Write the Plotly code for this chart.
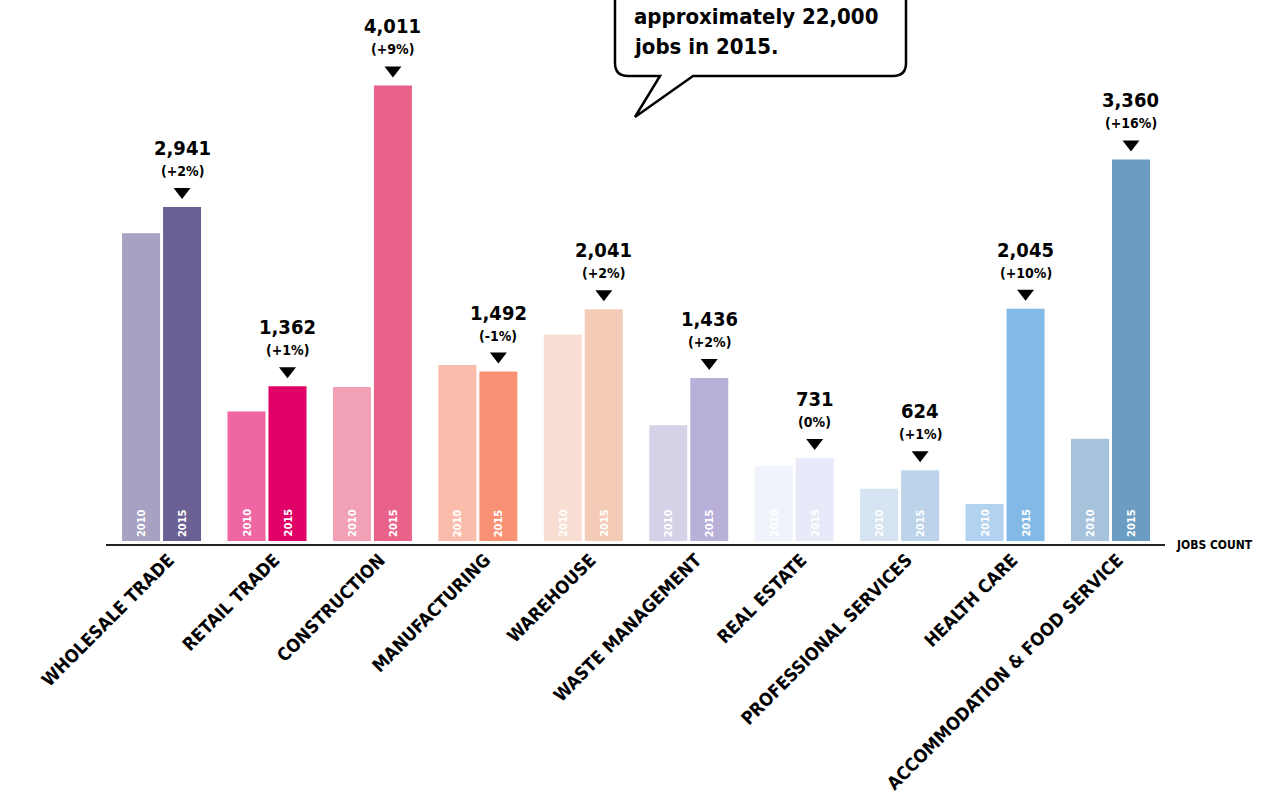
import plotly.graph_objects as go

# ---- data ---------------------------------------------------------------
categories = [
    "WHOLESALE TRADE", "RETAIL TRADE", "CONSTRUCTION", "MANUFACTURING",
    "WAREHOUSE", "WASTE MANAGEMENT", "REAL ESTATE", "PROFESSIONAL SERVICES",
    "HEALTH CARE", "ACCOMMODATION & FOOD SERVICE",
]
jobs_2010 = [2710, 1140, 1355, 1550, 1815, 1020, 660, 460, 325, 900]
jobs_2015 = [2941, 1362, 4011, 1492, 2041, 1436, 731, 624, 2045, 3360]
pct_change = ["+2%", "+1%", "+9%", "-1%", "+2%", "+2%", "0%", "+1%", "+10%", "+16%"]
year_labels = ["2010", "2015"]

colors_2010 = ["#a7a1c2", "#ee66a2", "#f1a0b6", "#fbbdab", "#f8ddd3",
               "#d5d1e7", "#f1f3fc", "#d6e3f0", "#b2d3ef", "#a6c3db"]
colors_2015 = ["#6a6093", "#e00066", "#e8628a", "#f99175", "#f4cbb6",
               "#b9b0da", "#e8eaf9", "#bcd3ea", "#83b9e6", "#6b9dc3"]

# ---- layout geometry ----------------------------------------------------
W, H = 1275, 804
M_L, M_R, M_T, M_B = 106, 110, 0, 259
PW = W - M_L - M_R
PH = H - M_T - M_B
X_RANGE = [-0.527, 9.517]
UNIT = PW / (X_RANGE[1] - X_RANGE[0])        # px per category slot
PX_PER_JOB = 0.11357
Y_MIN = -4 / PX_PER_JOB                       # small gap between bars and baseline
Y_MAX = Y_MIN + PH / PX_PER_JOB

BAR_W = 38 / UNIT
GAP = 3 / UNIT
OFF_2010 = -(BAR_W + GAP / 2)
OFF_2015 = GAP / 2
LABEL_NUDGE = 0.07                            # category labels sit a little right of centre

FONT = "DejaVu Sans Condensed"
xs = list(range(len(categories)))

fig = go.Figure()
fig.add_trace(go.Bar(x=xs, y=jobs_2010, width=BAR_W, offset=OFF_2010,
                     marker=dict(color=colors_2010, line=dict(width=0)),
                     name="2010", hoverinfo="y"))
fig.add_trace(go.Bar(x=xs, y=jobs_2015, width=BAR_W, offset=OFF_2015,
                     marker=dict(color=colors_2015, line=dict(width=0)),
                     name="2015", hoverinfo="y"))

annotations = []
shapes = []

c2010 = [x + OFF_2010 + BAR_W / 2 for x in xs]
c2015 = [x + OFF_2015 + BAR_W / 2 for x in xs]

for i in xs:
    # vertical year tags at the foot of each bar
    for cx, yr in ((c2010[i], year_labels[0]), (c2015[i], year_labels[1])):
        annotations.append(dict(
            x=cx, y=0, xref="x", yref="y", text=yr, showarrow=False,
            textangle=-90, xanchor="center", yanchor="middle", yshift=18,
            font=dict(family=FONT, size=11, color="white", weight="bold")))
    # value and change above the 2015 bar
    annotations.append(dict(
        x=c2015[i], y=jobs_2015[i], xref="x", yref="y",
        text=f"{jobs_2015[i]:,}", showarrow=False,
        xanchor="center", yanchor="middle", yshift=59,
        font=dict(family=FONT, size=20, color="black", weight="bold")))
    annotations.append(dict(
        x=c2015[i], y=jobs_2015[i], xref="x", yref="y",
        text=f"({pct_change[i]})", showarrow=False,
        xanchor="center", yanchor="middle", yshift=36,
        font=dict(family=FONT, size=14, color="black", weight="bold")))
    # pointer triangle
    shapes.append(dict(
        type="path", xref="x", yref="y",
        xsizemode="pixel", ysizemode="pixel",
        xanchor=c2015[i], yanchor=jobs_2015[i],
        path="M-8.5,19 L8.5,19 L0,8 Z",
        fillcolor="black", line=dict(width=0)))

# baseline
shapes.append(dict(type="line", xref="paper", yref="paper",
                   x0=0, x1=1, y0=0, y1=0,
                   line=dict(color="#222222", width=2)))

annotations.append(dict(
    x=1, y=0, xref="paper", yref="paper", text="JOBS COUNT", showarrow=False,
    xanchor="left", yanchor="middle", xshift=9,
    font=dict(family=FONT, size=12, color="black", weight="bold")))


# speech bubble (pixel layout converted to paper coordinates)
def px(xp):
    return (xp - M_L) / PW


def py(yp):
    return (M_T + PH - yp) / PH


def pt(xp, yp):
    return f"{px(xp):.5f},{py(yp):.5f}"


bl, br, bb, btop, r = 615, 906, 76, -30, 13
bubble = (
    f"M{pt(bl, btop)} L{pt(bl, bb - r)} Q{pt(bl, bb)} {pt(bl + r, bb)} "
    f"L{pt(660, bb)} L{pt(635, 117)} L{pt(693, bb)} "
    f"L{pt(br - r, bb)} Q{pt(br, bb)} {pt(br, bb - r)} L{pt(br, btop)} Z"
)
shapes.append(dict(type="path", xref="paper", yref="paper", path=bubble,
                   fillcolor="white", line=dict(color="black", width=2.5),
                   layer="above"))

for txt, yp in (("approximately 22,000", 17), ("jobs in 2015.", 47)):
    annotations.append(dict(
        x=px(632), y=py(yp), xref="paper", yref="paper", text=txt,
        showarrow=False, xanchor="left", yanchor="middle",
        font=dict(family=FONT, size=22, color="black", weight="bold")))

fig.update_layout(
    width=W, height=H,
    margin=dict(l=M_L, r=M_R, t=M_T, b=M_B, pad=0),
    paper_bgcolor="white", plot_bgcolor="white",
    showlegend=False, barmode="overlay",
    xaxis=dict(range=X_RANGE, tickmode="array",
               tickvals=[x + LABEL_NUDGE for x in xs], ticktext=categories,
               tickangle=-45, showgrid=False, zeroline=False, showline=False,
               ticks="", tickfont=dict(family=FONT, size=18, color="black",
                                       weight="bold")),
    yaxis=dict(range=[Y_MIN, Y_MAX], visible=False, showgrid=False,
               zeroline=False),
    annotations=annotations, shapes=shapes,
)

fig.write_html("out.html")
